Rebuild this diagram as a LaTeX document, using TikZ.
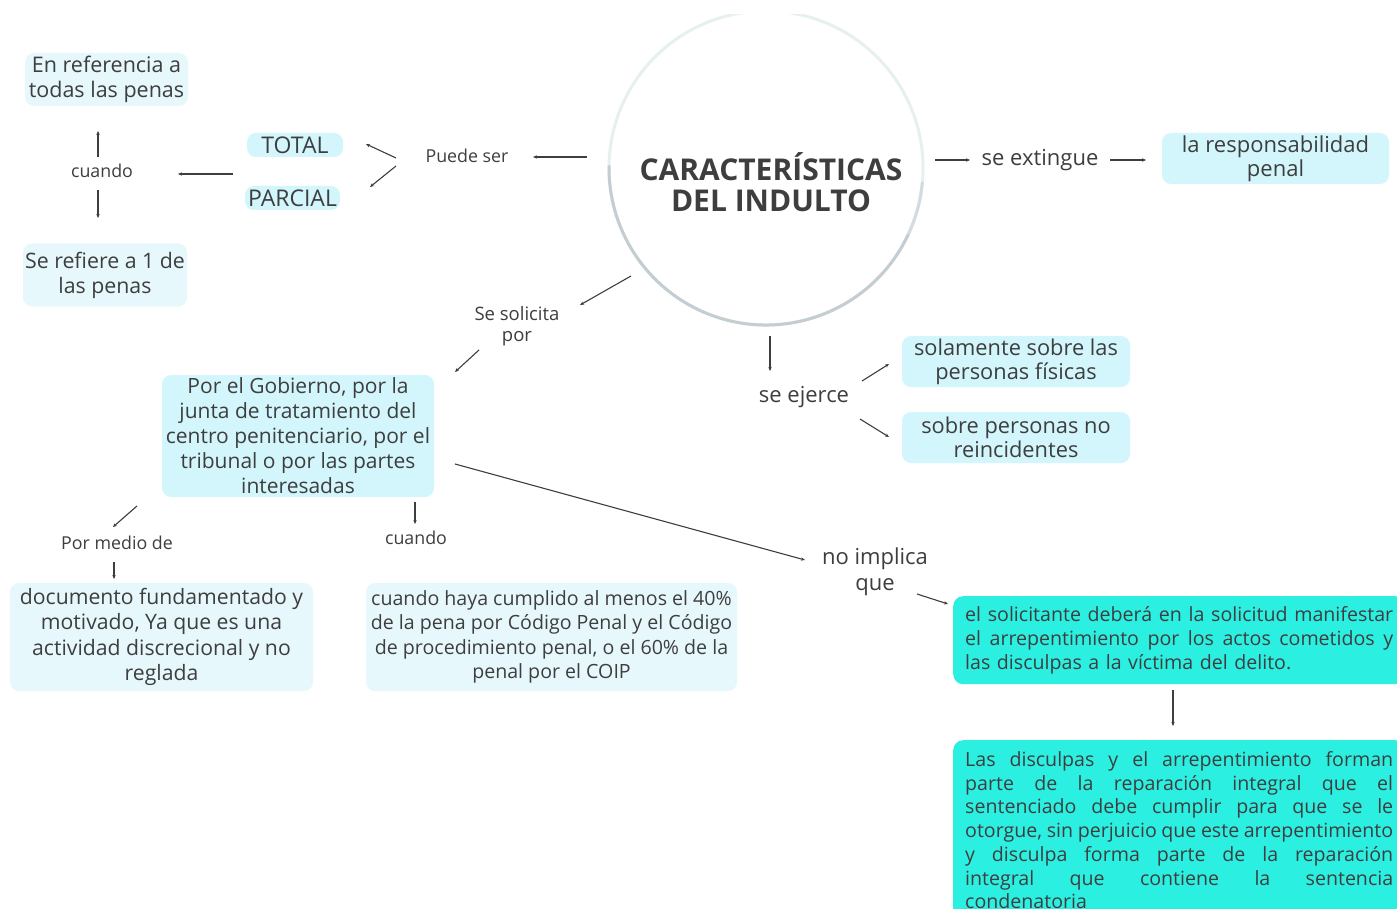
\documentclass[tikz,border=0pt]{standalone}
\usepackage{fontspec}
\setmainfont{Open Sans}
\newfontfamily\labfont{Open Sans}
\newfontfamily\titlefont{Open Sans}
\usetikzlibrary{arrows.meta}
\definecolor{ink}{HTML}{3E3E3E}
\definecolor{boxA}{HTML}{D2F6FC}
\definecolor{boxB}{HTML}{E7F8FD}
\definecolor{tealbox}{HTML}{2BF0E1}
\definecolor{ringT}{HTML}{E6F0F0}
\definecolor{ringB}{HTML}{C4CDD1}
\newcommand\jl[1]{\leavevmode\hbox to 428pt{\spaceskip=.26em plus 1fil minus .1em\relax#1}}
\begin{document}
\begin{tikzpicture}[x=1pt,y=-1pt,
  arr/.style={draw=ink, line width=1.1pt, -{Stealth[length=4pt,width=3.4pt]}},
  bx/.style={rounded corners=9pt, inner sep=0pt, align=center, text=ink},
  lbl/.style={text=ink, align=center, inner sep=1pt},
  small/.style={lbl, font=\labfont\fontsize{17.8}{21}\selectfont},
  mid/.style={lbl, font=\fontsize{22}{26}\selectfont},
  tbx/.style={rounded corners=10pt, fill=tealbox, text=ink, align=left, text width=428pt, inner xsep=12pt, inner ysep=0pt, anchor=north west}
]
\useasboundingbox (0,0) rectangle (1397,909);
\fill[white] (0,0) rectangle (1397,909);

% central circle
\node[circle, minimum size=316pt, inner sep=0pt] (circ) at (766,168) {};
\begin{scope}
  \clip (0,15) rectangle (1397,909);
  \draw[ringT, line width=3pt] (766,168) circle[radius=157];
  \draw[ringB, line width=3pt] (766,168) ++(25:157) arc[start angle=25, end angle=181, radius=157];
  \draw[ringB!60!ringT, line width=3pt] (766,168) ++(5:157) arc[start angle=5, end angle=25, radius=157];
\end{scope}
\node[lbl, font=\titlefont\bfseries\fontsize{30}{31}\selectfont] (title) at (771,182) {CARACTERÍSTICAS\\DEL INDULTO};

% left branch
\node[small] (ps) at (467,156) {Puede ser};
\node[bx, fill=boxA, minimum width=96pt, minimum height=24pt, font=\fontsize{23}{24}\selectfont] (total) at (295,145) {TOTAL};
\node[bx, fill=boxA, minimum width=95pt, minimum height=24pt, font=\fontsize{23}{24}\selectfont] (parcial) at (292.5,198) {PARCIAL};
\node[small] (cu1) at (102,171) {cuando};
\node[bx, fill=boxB, minimum width=163pt, minimum height=53pt, font=\fontsize{21.5}{25.5}\selectfont] (ref) at (106.5,79.5) {En referencia a\\todas las penas};
\node[bx, fill=boxB, minimum width=164pt, minimum height=63pt, font=\fontsize{21.3}{25}\selectfont] (sref) at (105,275) {Se refiere a 1 de\\las penas};

% solicita branch
\node[small, font=\labfont\fontsize{18.5}{21}\selectfont] (sol) at (517,326) {Se solicita\\por};
\node[bx, fill=boxA, minimum width=272pt, minimum height=122pt, font=\fontsize{21}{25}\selectfont] (gob) at (298,436) {Por el Gobierno, por la\\junta de tratamiento del\\centro penitenciario, por el\\tribunal o por las partes\\interesadas};
\node[small] (pm) at (117,543) {Por medio de};
\node[bx, fill=boxB, minimum width=303pt, minimum height=108pt, font=\fontsize{21.2}{25.3}\selectfont] (doc) at (161.5,637) {documento fundamentado y\\motivado, Ya que es una\\actividad discrecional y no\\reglada};
\node[small] (cu2) at (416,538) {cuando};
\node[bx, fill=boxB, minimum width=371pt, minimum height=108pt, font=\fontsize{19.6}{24.3}\selectfont] (cum) at (551.5,637) {cuando haya cumplido al menos el 40\%\\de la pena por Código Penal y el Código\\de procedimiento penal, o el 60\% de la\\penal por el COIP};
\node[mid] (noimp) at (875,572) {no implica\\que};
\node[tbx, minimum height=88pt, font=\fontsize{19.6}{24}\selectfont] (t1) at (953,596) {\jl{el solicitante deberá en la solicitud manifestar}\\\jl{el arrepentimiento por los actos cometidos y}\\las disculpas a la víctima del delito.};
\node[tbx, minimum height=180pt, font=\fontsize{19.6}{23.7}\selectfont] (t2) at (953,740) {\jl{Las disculpas y el arrepentimiento forman}\\\jl{parte de la reparación integral que el}\\\jl{sentenciado debe cumplir para que se le}\\\jl{otorgue, sin perjuicio que este arrepentimiento}\\\jl{y disculpa forma parte de la reparación}\\\jl{integral que contiene la sentencia}\\condenatoria};

% right branch
\node[mid] (ext) at (1040,160) {se extingue};
\node[bx, fill=boxA, minimum width=227pt, minimum height=51pt, font=\fontsize{22}{24}\selectfont] (resp) at (1275.5,158.5) {la responsabilidad\\penal};
\node[mid] (eje) at (804,397) {se ejerce};
\node[bx, fill=boxA, minimum width=228pt, minimum height=51pt, font=\fontsize{21.8}{24}\selectfont] (fis) at (1016,361.5) {solamente sobre las\\personas físicas};
\node[bx, fill=boxA, minimum width=228pt, minimum height=51pt, font=\fontsize{21.8}{24}\selectfont] (rein) at (1016,437.5) {sobre personas no\\reincidentes};

% arrow end points
\coordinate (a1) at (587,157); \coordinate (a2) at (533,157);
\coordinate (b1) at (396,158); \coordinate (b2) at (366,144);
\coordinate (c1) at (396,166); \coordinate (c2) at (370,187);
\coordinate (d1) at (233,174); \coordinate (d2) at (178,174);
\coordinate (e1) at (98,157);  \coordinate (e2) at (98,131);
\coordinate (f1) at (98,190);  \coordinate (f2) at (98,218);
\coordinate (g1) at (631,276); \coordinate (g2) at (580,305);
\coordinate (h1) at (479,350); \coordinate (h2) at (455,372);
\coordinate (i1) at (137,506); \coordinate (i2) at (113,527);
\coordinate (j1) at (114,562); \coordinate (j2) at (114,579);
\coordinate (k1) at (415,502); \coordinate (k2) at (415,524);
\coordinate (l1) at (455,464); \coordinate (l2) at (805,560);
\coordinate (m1) at (917,594); \coordinate (m2) at (948,604);
\coordinate (n1) at (1173,690); \coordinate (n2) at (1173,726);
\coordinate (o1) at (935,160); \coordinate (o2) at (970,160);
\coordinate (p1) at (1110,160); \coordinate (p2) at (1146,160);
\coordinate (q1) at (770,336); \coordinate (q2) at (770,371);
\coordinate (r1) at (862,381); \coordinate (r2) at (889,364);
\coordinate (s1) at (860,419); \coordinate (s2) at (889,437);

\foreach \u in {a,b,c,d,e,f,g,h,i,j,k,l,m,n,o,p,q,r,s}
  \draw[arr] (\u1) -- (\u2);
\end{tikzpicture}
\end{document}
